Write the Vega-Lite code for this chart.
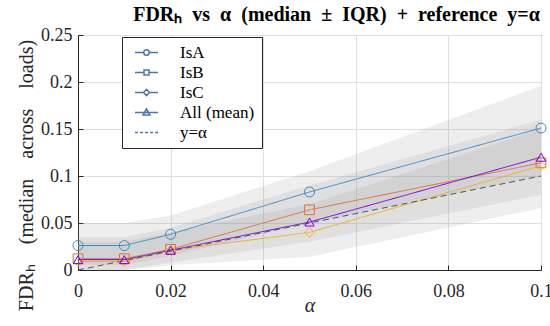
{
  "$schema": "https://vega.github.io/schema/vega-lite/v6.json",
  "width": 463,
  "height": 235,
  "autosize": "none",
  "padding": {"left": 78, "top": 35, "right": 9, "bottom": 56},
  "background": "white",
  "title": {
    "text": "FDRₕ\u00a0\u00a0vs\u00a0\u00a0α\u00a0\u00a0(median\u00a0\u00a0±\u00a0\u00a0IQR)\u00a0\u00a0+\u00a0\u00a0reference\u00a0\u00a0y=α",
    "font": "Liberation Serif",
    "fontSize": 20,
    "fontWeight": "bold",
    "color": "#000000",
    "anchor": "middle",
    "frame": "group",
    "dx": 27,
    "offset": 1
  },
  "data": {
    "values": [
      {"series": "IsA", "alpha": 0, "median": 0.026, "lo": 0.005, "hi": 0.05},
      {"series": "IsA", "alpha": 0.01, "median": 0.026, "lo": 0.005, "hi": 0.05},
      {"series": "IsA", "alpha": 0.02, "median": 0.038, "lo": 0.015, "hi": 0.058},
      {"series": "IsA", "alpha": 0.05, "median": 0.083, "lo": 0.05, "hi": 0.105},
      {"series": "IsA", "alpha": 0.1, "median": 0.151, "lo": 0.1, "hi": 0.196},
      {"series": "IsB", "alpha": 0, "median": 0.012, "lo": 0, "hi": 0.035},
      {"series": "IsB", "alpha": 0.01, "median": 0.012, "lo": 0, "hi": 0.035},
      {"series": "IsB", "alpha": 0.02, "median": 0.022, "lo": 0.008, "hi": 0.045},
      {"series": "IsB", "alpha": 0.05, "median": 0.064, "lo": 0.03, "hi": 0.09},
      {"series": "IsB", "alpha": 0.1, "median": 0.114, "lo": 0.08, "hi": 0.16},
      {"series": "IsC", "alpha": 0, "median": 0.009, "lo": 0, "hi": 0.03},
      {"series": "IsC", "alpha": 0.01, "median": 0.009, "lo": 0, "hi": 0.03},
      {"series": "IsC", "alpha": 0.02, "median": 0.021, "lo": 0.005, "hi": 0.04},
      {"series": "IsC", "alpha": 0.05, "median": 0.040, "lo": 0.014, "hi": 0.07},
      {"series": "IsC", "alpha": 0.1, "median": 0.111, "lo": 0.066, "hi": 0.15},
      {"series": "All (mean)", "alpha": 0, "median": 0.011},
      {"series": "All (mean)", "alpha": 0.01, "median": 0.011},
      {"series": "All (mean)", "alpha": 0.02, "median": 0.021},
      {"series": "All (mean)", "alpha": 0.05, "median": 0.051},
      {"series": "All (mean)", "alpha": 0.1, "median": 0.12},
      {"series": "y=α", "alpha": 0, "median": 0},
      {"series": "y=α", "alpha": 0.1, "median": 0.1}
    ]
  },
  "encoding": {
    "x": {"field": "alpha", "type": "quantitative",
      "scale": {"domain": [0, 0.1], "nice": false, "zero": false},
      "axis": {"values": [0, 0.02, 0.04, 0.06, 0.08, 0.1], "format": "~g", "title": "α", "titleFontStyle": "italic", "grid": true}},
    "y": {"field": "median", "type": "quantitative",
      "scale": {"domain": [0, 0.25], "nice": false},
      "axis": {"values": [0, 0.05, 0.1, 0.15, 0.2, 0.25], "format": "~g", "title": "FDRₕ\u00a0\u00a0\u00a0\u00a0(median\u00a0\u00a0\u00a0\u00a0across\u00a0\u00a0\u00a0\u00a0loads)", "titleY": 140, "grid": true}}
  },
  "layer": [
    {
      "transform": [{"filter": "isValid(datum.hi)"}],
      "mark": {"type": "area", "fill": "#8c8c8c", "opacity": 0.15},
      "encoding": {
        "y": {"field": "lo", "type": "quantitative"},
        "y2": {"field": "hi"},
        "detail": {"field": "series"}
      }
    },
    {
      "mark": {"type": "line"},
      "encoding": {
        "color": {"field": "series", "type": "nominal", "legend": null,
          "scale": {"domain": ["IsA", "IsB", "IsC", "All (mean)", "y=α"], "range": ["#3d8ac8", "#e0703a", "#ebb22a", "#7b00e6", "#555555"]}},
        "strokeWidth": {"field": "series", "type": "nominal", "legend": null,
          "scale": {"domain": ["IsA", "IsB", "IsC", "All (mean)", "y=α"], "range": [1, 1, 1, 2.8, 1.2]}},
        "strokeDash": {"field": "series", "type": "nominal", "legend": null,
          "scale": {"domain": ["IsA", "IsB", "IsC", "All (mean)", "y=α"], "range": [[1, 0], [1, 0], [1, 0], [1, 0], [6, 4]]}},
        "order": {"field": "alpha"}
      }
    },
    {
      "transform": [{"filter": "datum.series !== 'y=α'"}],
      "mark": {"type": "point", "filled": false, "opacity": 1},
      "encoding": {
        "color": {"field": "series", "type": "nominal", "legend": null},
        "strokeWidth": {"field": "series", "type": "nominal", "legend": null},
        "shape": {"field": "series", "type": "nominal", "legend": null,
          "scale": {"domain": ["IsA", "IsB", "IsC", "All (mean)", "y=α"], "range": ["circle", "square", "diamond", "triangle-up", "circle"]}},
        "size": {"field": "series", "type": "nominal", "legend": null,
          "scale": {"domain": ["IsA", "IsB", "IsC", "All (mean)", "y=α"], "range": [100, 80, 130, 200, 0]}}
      }
    },
    {
      "mark": {"type": "point", "filled": false, "opacity": 0},
      "encoding": {
        "shape": {"field": "series", "type": "nominal",
          "legend": {"title": null,
            "encode": {"symbols": {
              "stroke": {"value": {"expr": "scale('color', datum.value)"}},
              "strokeWidth": {"value": {"expr": "scale('strokeWidth', datum.value)"}},
              "opacity": {"value": 1},
              "fill": {"value": "transparent"}
            }}},
          "scale": {"domain": ["IsA", "IsB", "IsC", "All (mean)", "y=α"], "range": [
            "M-1,0H2.5M4.7,0H8.2M2.5,0A1.1,1.1,0,1,0,4.7,0A1.1,1.1,0,1,0,2.5,0",
            "M-1,0H2.6M4.6,0H8.2M2.6,-1H4.6V1H2.6Z",
            "M-1,0H2.4M4.8,0H8.2M2.4,0L3.6,-1.25L4.8,0L3.6,1.25Z",
            "M-1,0H8.2M3.6,-1.4L5,1H2.2Z",
            "M-1,0H0.2M1,0H2.2M3,0H4.2M5,0H6.2M7,0H8.2"
          ]}}
      }
    }
  ],
  "resolve": {
    "scale": {"shape": "independent"},
    "legend": {"shape": "independent"}
  },
  "config": {
    "view": {"stroke": "#262626", "strokeWidth": 1},
    "axis": {
      "labelFont": "Liberation Serif",
      "labelFontSize": 18,
      "labelColor": "#262626",
      "titleFont": "Liberation Serif",
      "titleFontSize": 20,
      "titleFontWeight": "normal",
      "titleColor": "#262626",
      "domainColor": "#262626",
      "tickColor": "#262626",
      "tickSize": -5,
      "gridColor": "#dfdfdf",
      "gridWidth": 1,
      "labelBound": false,
      "labelFlush": false
    },
    "axisX": {"labelPadding": 17, "titlePadding": -5},
    "axisY": {"labelPadding": 11, "titlePadding": 4},
    "legend": {
      "orient": "none",
      "legendX": 44,
      "legendY": 2,
      "fillColor": "white",
      "strokeColor": "#262626",
      "padding": 7,
      "labelFont": "Liberation Serif",
      "labelFontSize": 17,
      "labelColor": "#000000",
      "labelOffset": 34,
      "symbolSize": 25,
      "rowPadding": 2
    }
  }
}
